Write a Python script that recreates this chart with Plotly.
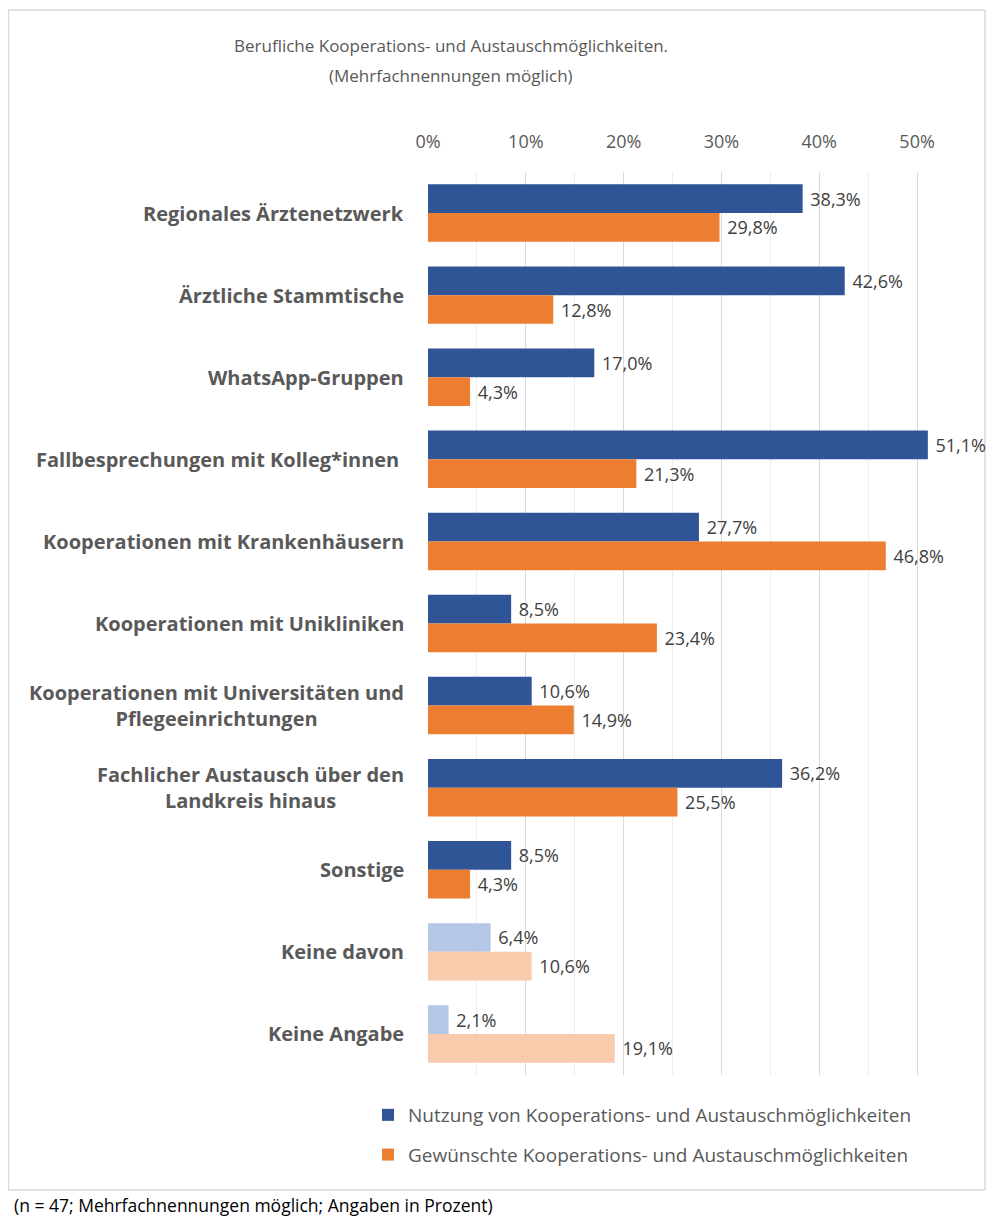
import plotly.graph_objects as go

# Chart data (percent values)
categories = [
    "Regionales Ärztenetzwerk",
    "Ärztliche Stammtische",
    "WhatsApp-Gruppen",
    "Fallbesprechungen mit Kolleg*innen ",
    "Kooperationen mit Krankenhäusern",
    "Kooperationen mit Unikliniken",
    "Kooperationen mit Universitäten und<br>Pflegeeinrichtungen",
    "Fachlicher Austausch über den<br>Landkreis hinaus",
    "Sonstige",
    "Keine davon",
    "Keine Angabe",
]
nutzung = [38.3, 42.6, 17.0, 51.1, 27.7, 8.5, 10.6, 36.2, 8.5, 6.4, 2.1]
gewuenscht = [29.8, 12.8, 4.3, 21.3, 46.8, 23.4, 14.9, 25.5, 4.3, 10.6, 19.1]
tick_vals = [0, 10, 20, 30, 40, 50]
tick_text = ["0%", "10%", "20%", "30%", "40%", "50%"]
minor_vals = [5, 15, 25, 35, 45]

series_names = [
    "Nutzung von Kooperations- und Austauschmöglichkeiten",
    "Gewünschte Kooperations- und Austauschmöglichkeiten",
]
title_lines = [
    "Berufliche Kooperations- und Austauschmöglichkeiten.",
    "(Mehrfachnennungen möglich)",
]
footnote = "(n = 47; Mehrfachnennungen möglich; Angaben in Prozent)"

# the page body adds an 8px margin, so work in figure pixels = reference - 8
OFF = 8
W, H = 994 - 2 * OFF, 1227 - 2 * OFF
L, R, T, B = 428 - OFF, 966 - OFF, 172 - OFF, 1075 - OFF
FONT = "Open Sans"
GREY = "#595959"

def fmt(v):
    return "\u00a0" + f"{v:.1f}".replace(".", ",") + "%"

def px(x):  # reference pixel -> paper x
    return (x - OFF - L) / (R - L)

def py(y):  # reference pixel -> paper y
    return (B - (y - OFF)) / (B - T)

blue = ["#2F5597"] * 9 + ["#B4C7E7"] * 2
orange = ["#ED7D31"] * 9 + ["#F8CBAD"] * 2

fig = go.Figure()
for name, vals, cols in [(series_names[0], nutzung, blue),
                         (series_names[1], gewuenscht, orange)]:
    fig.add_trace(go.Bar(
        y=categories, x=vals, orientation="h", name=name,
        marker=dict(color=cols, line=dict(width=0)),
        text=[fmt(v) for v in vals], textposition="outside",
        textfont=dict(family=FONT, size=18, color="#404040"),
        cliponaxis=False, legendgroup=name,
    ))

# category labels, centred multi-line like the original
annotations = [dict(
    x=0, xref="paper", xanchor="right", xshift=-22,
    y=c, yref="y", text=f"<b>{c}</b>", showarrow=False, align="center",
    font=dict(family=FONT, size=20, color=GREY),
) for c in categories]

for line, yy in zip(title_lines, [45, 75]):
    annotations.append(dict(
        x=px(451), xref="paper", xanchor="center", y=py(yy), yref="paper",
        yanchor="middle", showarrow=False, text=line,
        font=dict(family=FONT, size=17, color=GREY),
    ))

annotations.append(dict(
    x=px(12), xref="paper", xanchor="left", y=py(1205), yref="paper",
    yanchor="middle", showarrow=False, text=footnote,
    font=dict(family=FONT, size=17.5, color="#000000"),
))

fig.update_layout(
    width=W, height=H,
    margin=dict(l=L, r=W - R, t=T, b=H - B, autoexpand=False),
    paper_bgcolor="white", plot_bgcolor="white",
    barmode="group", bargap=0.3, bargroupgap=0,
    xaxis=dict(
        side="top", range=[0, 55], tickvals=tick_vals, ticktext=tick_text,
        showgrid=True, gridcolor="#D9D9D9", gridwidth=1,
        minor=dict(tickvals=minor_vals, showgrid=True, gridcolor="#EDEDED", gridwidth=1),
        zeroline=False, ticks="", ticklabelstandoff=19, tickangle=0,
        tickfont=dict(family=FONT, size=18, color=GREY),
        fixedrange=True, automargin=False,
    ),
    yaxis=dict(
        autorange="reversed", showticklabels=False, showgrid=False,
        zeroline=False, ticks="", automargin=False,
    ),
    legend=dict(
        xref="container", yref="container",
        x=360 / W, xanchor="left", y=1 - 1088 / H, yanchor="top",
        orientation="v", tracegroupgap=12,
        font=dict(family=FONT, size=19, color=GREY),
        itemclick=False,
    ),
    annotations=annotations,
    shapes=[dict(
        type="rect", xref="paper", yref="paper",
        x0=(0.5 - L) / (R - L), x1=(W - 1 - L) / (R - L),
        y0=py(1190), y1=py(10),
        line=dict(color="#D9D9D9", width=1.5), fillcolor="rgba(0,0,0,0)",
        layer="below",
    )],
)

fig.write_html("out.html")
